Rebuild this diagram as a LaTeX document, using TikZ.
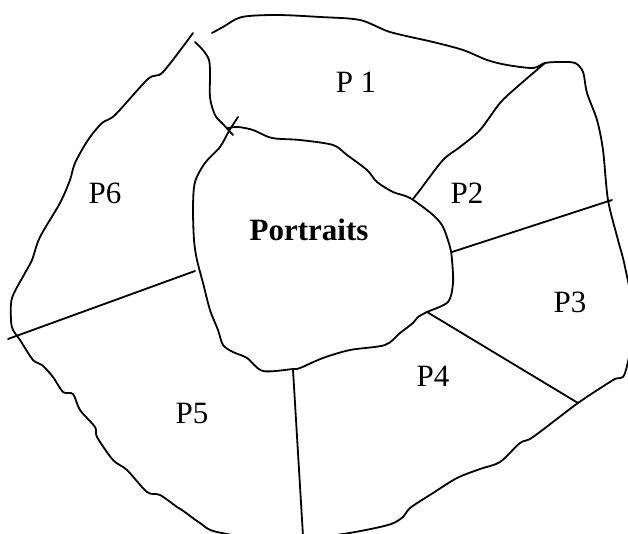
\documentclass[tikz,border=0pt]{standalone}
\usepackage{fontspec}
\setmainfont{Liberation Serif}
\begin{document}
\begin{tikzpicture}[x=1pt,y=-1pt,
  edge/.style={line width=1.8pt,line join=round,line cap=round},
  region/.style={font=\fontsize{31}{37}\selectfont},
  centre/.style={font=\fontsize{31}{37}\selectfont\bfseries}]
\useasboundingbox (0,0) rectangle (628,534);
\clip (0,0) rectangle (628,534);

% outer boundary of the map, open at the top-left
\draw[edge] plot[smooth,tension=0.5] coordinates {
  (212,33) (223,27) (242,17) (277,15) (320,17) (360,20) (390,32) (433,42)
  (463,50) (487,60) (507,65) (533,68) (545,63) (560,62) (575,63) (583,72)
  (587,93) (597,120) (603,150) (608,200) (618,240) (625,267) (634,320)
  (625,373) (613,380) (578,403) (533,437) (520,443) (500,462) (480,469)
  (457,478) (433,493) (410,508) (403,517) (388,525) (343,534) (280,541)
  (217,532) (200,523) (182,510) (177,507) (160,495) (147,492) (127,470)
  (113,460) (97,437) (95,427) (80,410) (73,394) (63,392) (53,377) (42,365)
  (33,360) (20,340) (13,330) (11,320) (12,298) (25,273) (32,260) (40,237)
  (60,203) (70,180) (75,163) (88,140) (102,123) (115,115) (148,79) (163,72)
  (193,33)};

% central region
\draw[edge] plot[smooth,tension=0.5] coordinates {
  (238,117) (229,131) (220,147) (205,163) (195,182) (193,207) (194,240)
  (197,260) (203,283) (210,310) (218,330) (223,345) (233,352) (247,358)
  (263,371) (293,369) (300,368) (323,358) (350,350) (385,345) (400,333)
  (413,323) (418,317) (427,312) (448,302) (453,283) (452,260) (450,247)
  (443,227) (433,215) (410,198) (393,192) (377,182) (367,170) (347,155)
  (333,145) (300,140) (272,138) (253,130) (238,127) (228,128)};

% divider between P1 and P6
\draw[edge] plot[smooth,tension=0.5] coordinates {
  (195,42) (209,60) (210,97) (215,115) (222,123) (233,135)};

% divider between P1 and P2
\draw[edge] plot[smooth,tension=0.5] coordinates {
  (413,199) (420,190) (443,160) (460,147) (480,130) (500,103) (517,87) (545,63)};

% straight dividers
\coordinate (d23a) at (452,252); \coordinate (d23b) at (612,200);
\coordinate (d34a) at (427,312); \coordinate (d34b) at (578,403);
\coordinate (d45a) at (293,370); \coordinate (d45b) at (303,536);
\coordinate (d56a) at (8,339);   \coordinate (d56b) at (195,271);
\draw[edge] (d23a) -- (d23b);
\draw[edge] (d34a) -- (d34b);
\draw[edge] (d45a) -- (d45b);
\draw[edge] (d56a) -- (d56b);

% labels
\node[region] (p1) at (356,82) {P 1};
\node[region] (p2) at (467,193) {P2};
\node[region] (p3) at (570,302) {P3};
\node[region] (p4) at (433,376) {P4};
\node[region] (p5) at (192,413) {P5};
\node[region] (p6) at (105,193) {P6};
\node[centre] (core) at (309,230) {Portraits};
\end{tikzpicture}
\end{document}
